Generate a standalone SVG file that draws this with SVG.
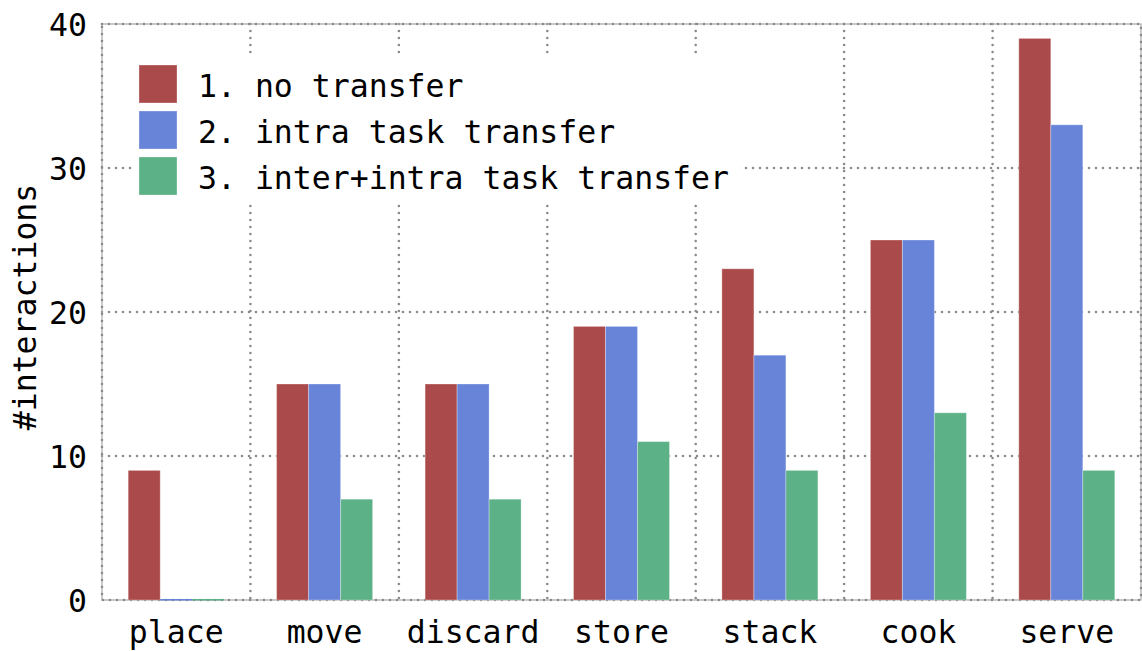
<svg xmlns="http://www.w3.org/2000/svg" width="1142" height="651" viewBox="0 0 1142 651">
  <style>
    text { font-family: "DejaVu Sans Mono", "Liberation Mono", monospace; font-size: 31.5px; fill: #000; }
    .tick { text-anchor: end; }
    .cat { text-anchor: middle; }
    .grid { stroke: #8a8a8a; stroke-width: 2.6; stroke-linecap: round; stroke-dasharray: 0 7; fill: none; }
    .frame { stroke: #a8a8a8; stroke-width: 1.2; fill: none; }
    .r { fill: #ab4a4a; }
    .b { fill: #6784d9; }
    .g { fill: #5cb187; }
    .bar { stroke: #ffffff; stroke-opacity: 0.3; stroke-width: 1; }
  </style>

  <rect width="1142" height="651" fill="#fff"/>

  <!-- grid -->
  <g id="grid">
    <path class="grid" d="M102 456H1141M102 312H1141M102 168H1141"/>
    <path class="grid" d="M250.4 24V600M398.9 24V600M547.3 24V600M695.7 24V600M844.1 24V600M992.6 24V600"/>
  </g>

  <!-- frame -->
  <g id="frame">
    <rect class="frame" x="102" y="24" width="1039" height="576"/>
    <rect class="grid" x="102" y="24" width="1039" height="576"/>
  </g>

  <!-- y axis -->
  <g id="y-axis">
    <text class="tick" x="87" y="612">0</text>
    <text class="tick" x="87" y="468">10</text>
    <text class="tick" x="87" y="324">20</text>
    <text class="tick" x="87" y="180">30</text>
    <text class="tick" x="87" y="36">40</text>
    <text transform="translate(36,307) rotate(-90)" text-anchor="middle">#interactions</text>
  </g>

  <!-- bars -->
  <g id="place">
    <rect class="bar r" x="128.2" y="470.4" width="32" height="129.6"/>
    <rect class="b" x="160.2" y="599" width="32" height="1.5"/>
    <rect class="g" x="192.2" y="599" width="32" height="1.5"/>
    <text class="cat" x="176.2" y="643">place</text>
  </g>
  <g id="move">
    <rect class="bar r" x="276.6" y="384" width="32" height="216"/>
    <rect class="bar b" x="308.6" y="384" width="32" height="216"/>
    <rect class="bar g" x="340.6" y="499.2" width="32" height="100.8"/>
    <text class="cat" x="324.6" y="643">move</text>
  </g>
  <g id="discard">
    <rect class="bar r" x="425.1" y="384" width="32" height="216"/>
    <rect class="bar b" x="457.1" y="384" width="32" height="216"/>
    <rect class="bar g" x="489.1" y="499.2" width="32" height="100.8"/>
    <text class="cat" x="473.1" y="643">discard</text>
  </g>
  <g id="store">
    <rect class="bar r" x="573.5" y="326.4" width="32" height="273.6"/>
    <rect class="bar b" x="605.5" y="326.4" width="32" height="273.6"/>
    <rect class="bar g" x="637.5" y="441.6" width="32" height="158.4"/>
    <text class="cat" x="621.5" y="643">store</text>
  </g>
  <g id="stack">
    <rect class="bar r" x="721.9" y="268.8" width="32" height="331.2"/>
    <rect class="bar b" x="753.9" y="355.2" width="32" height="244.8"/>
    <rect class="bar g" x="785.9" y="470.4" width="32" height="129.6"/>
    <text class="cat" x="769.9" y="643">stack</text>
  </g>
  <g id="cook">
    <rect class="bar r" x="870.4" y="240" width="32" height="360"/>
    <rect class="bar b" x="902.4" y="240" width="32" height="360"/>
    <rect class="bar g" x="934.4" y="412.8" width="32" height="187.2"/>
    <text class="cat" x="918.4" y="643">cook</text>
  </g>
  <g id="serve">
    <rect class="bar r" x="1018.8" y="38.4" width="32" height="561.6"/>
    <rect class="bar b" x="1050.8" y="124.8" width="32" height="475.2"/>
    <rect class="bar g" x="1082.8" y="470.4" width="32" height="129.6"/>
    <text class="cat" x="1066.8" y="643">serve</text>
  </g>

  <!-- legend -->
  <g id="legend">
    <rect x="132" y="55" width="608" height="147" fill="#fff"/>
    <rect class="bar r" x="139" y="65" width="38" height="38"/>
    <rect class="bar b" x="139" y="111" width="38" height="38"/>
    <rect class="bar g" x="139" y="157" width="38" height="38"/>
    <text x="198" y="97">1. no transfer</text>
    <text x="198" y="143">2. intra task transfer</text>
    <text x="198" y="189">3. inter+intra task transfer</text>
  </g>
</svg>
